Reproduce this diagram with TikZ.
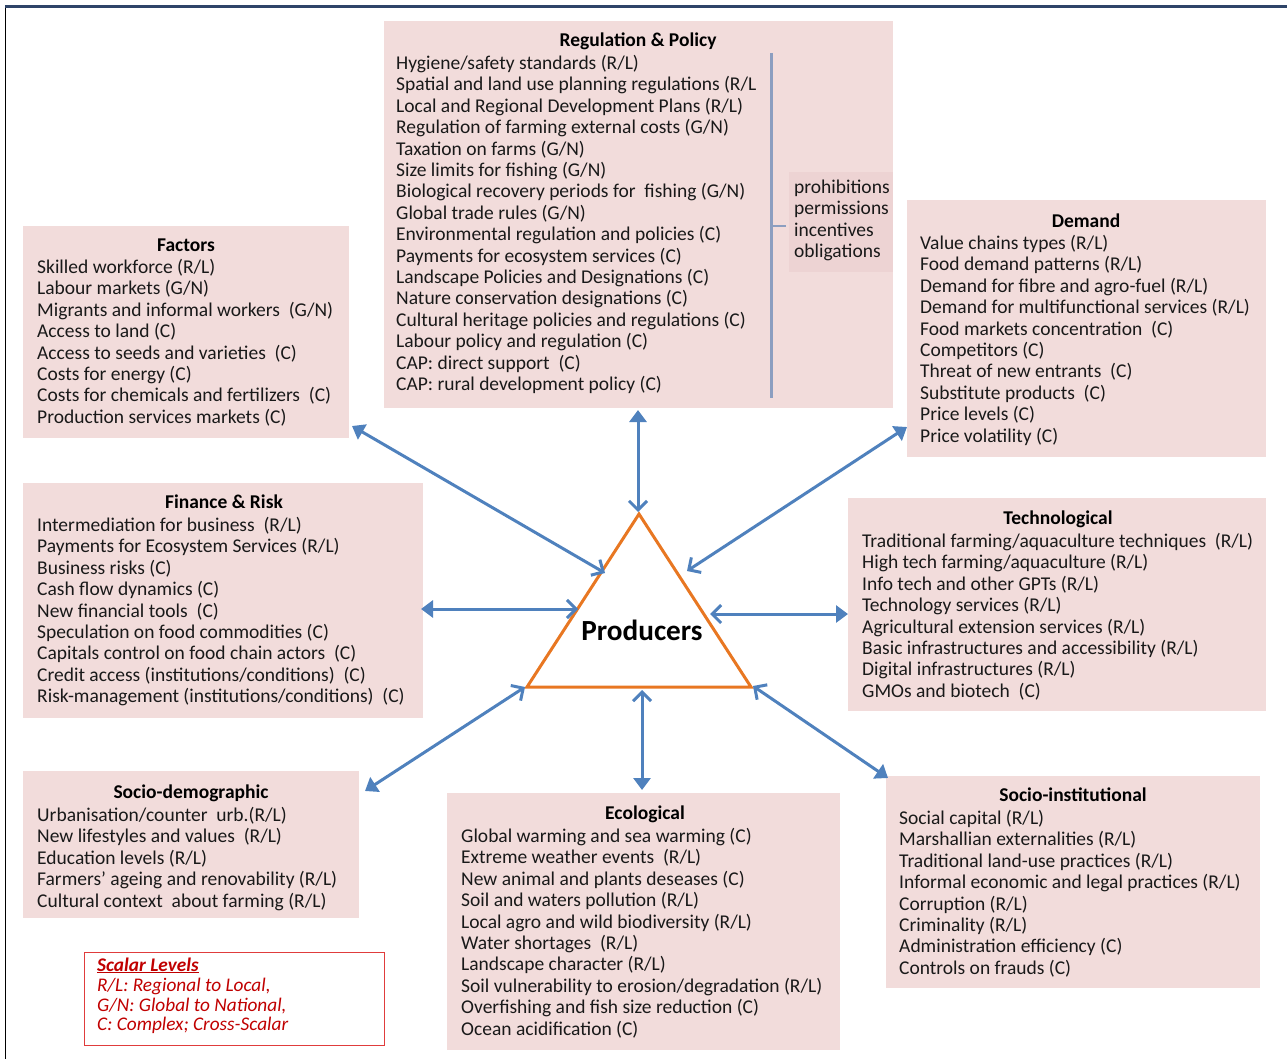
\documentclass[tikz,border=0pt]{standalone}
\usepackage{fontspec}
\setmainfont{Carlito}
\usetikzlibrary{arrows.meta}
\definecolor{boxpink}{HTML}{F2DCDB}
\definecolor{subpink}{HTML}{EDD3D3}
\definecolor{arrowblue}{HTML}{4F81BD}
\definecolor{triorange}{HTML}{E87722}
\definecolor{barcol}{HTML}{8C9EC0}
\definecolor{legred}{HTML}{C00000}
\definecolor{legborder}{HTML}{E03C3C}
\definecolor{framecol}{HTML}{2E4468}
\tikzset{
  panel/.style={fill=boxpink, draw=none, inner sep=0pt, outer sep=0pt, anchor=north west},
  txt/.style={anchor=base west, inner sep=0pt, font=\fontsize{19.5}{21.4}\selectfont, text=black!90},
  ttl/.style={anchor=base, inner sep=0pt, font=\fontsize{19.5}{21.4}\selectfont\bfseries},
  legtxt/.style={anchor=base west, inner sep=0pt, font=\fontsize{19.3}{19.5}\selectfont\itshape, text=legred},
  conn/.style={draw=arrowblue, line width=3pt,
    {Triangle[length=12pt,width=17pt]}-{Straight Barb[length=9pt,width=18pt,line width=3pt]}}
}
\newcommand\boxlines[3]{%
  \foreach \t [count=\i from 0] in {#3}{\node[txt] at (#1,{#2+\i*21.4}) {\t};}}
\begin{document}
\begin{tikzpicture}[x=1pt,y=-1pt]
\useasboundingbox (0,0) rectangle (1287,1059);
% frame
\draw[black, line width=1.5pt] (5.5,1059) -- (5.5,7);
\draw[framecol, line width=3pt] (4.8,7) -- (1287,7);

% ---------- Regulation & Policy ----------
\node[panel, minimum width=509pt, minimum height=387pt] (reg) at (384,21) {};
\node[fill=subpink, inner sep=0pt, anchor=north west, minimum width=104pt, minimum height=100pt] (regsub) at (789,172) {};
\node[ttl] (regt) at (638,47) {Regulation \& Policy};
\boxlines{396}{69.5}{Hygiene/safety standards (R/L),Spatial and land use planning regulations (R/L,Local and Regional Development Plans (R/L),Regulation of farming external costs (G/N),Taxation on farms (G/N),Size limits for fishing (G/N),Biological recovery periods for \ fishing (G/N),Global trade rules (G/N),Environmental regulation and policies (C),Payments for ecosystem services (C),Landscape Policies and Designations (C),Nature conservation designations (C),Cultural heritage policies and regulations (C),Labour policy and regulation (C),CAP: direct support \ (C),CAP: rural development policy (C)}
\draw[barcol, line width=3pt] (771,53) -- (771,398);
\draw[barcol, line width=2.5pt] (771,226) -- (786,226);
\boxlines{794}{193.5}{prohibitions,permissions,incentives,obligations}

% ---------- Factors ----------
\node[panel, minimum width=326pt, minimum height=212pt] (fac) at (23,226) {};
\node[ttl] (fact) at (186,251.5) {Factors};
\boxlines{37}{273.5}{Skilled workforce (R/L),Labour markets (G/N),Migrants and informal workers \ (G/N),Access to land (C),Access to seeds and varieties \ (C),Costs for energy (C),Costs for chemicals and fertilizers \ (C),Production services markets (C)}

% ---------- Demand ----------
\node[panel, minimum width=359pt, minimum height=257pt] (dem) at (907,200) {};
\node[ttl] (demt) at (1086,227.5) {Demand};
\boxlines{920}{249.5}{Value chains types (R/L),Food demand patterns (R/L),Demand for fibre and agro-fuel (R/L),Demand for multifunctional services (R/L),Food markets concentration \ (C),Competitors (C),Threat of new entrants \ (C),Substitute products \ (C),Price levels (C),Price volatility (C)}

% ---------- Finance & Risk ----------
\node[panel, minimum width=400pt, minimum height=235pt] (fin) at (23,483) {};
\node[ttl] (fint) at (224,508.5) {Finance \& Risk};
\boxlines{37}{531.5}{Intermediation for business \ (R/L),Payments for Ecosystem Services (R/L),Business risks (C),Cash flow dynamics (C),New financial tools \ (C),Speculation on food commodities (C),Capitals control on food chain actors \ (C),Credit access (institutions/conditions) \ (C),Risk-management (institutions/conditions) \ (C)}

% ---------- Technological ----------
\node[panel, minimum width=418pt, minimum height=213pt] (tec) at (848,498) {};
\node[ttl] (tect) at (1058,524.5) {Technological};
\boxlines{862}{547.5}{Traditional farming/aquaculture techniques \ (R/L),High tech farming/aquaculture (R/L),Info tech and other GPTs (R/L),Technology services (R/L),Agricultural extension services (R/L),Basic infrastructures and accessibility (R/L),Digital infrastructures (R/L),GMOs and biotech \ (C)}

% ---------- Socio-demographic ----------
\node[panel, minimum width=336pt, minimum height=147pt] (soc) at (23,771) {};
\node[ttl] (soct) at (191,798.5) {Socio-demographic};
\boxlines{37}{821.5}{Urbanisation/counter \ urb.(R/L),New lifestyles and values \ (R/L),Education levels (R/L),Farmers’ ageing and renovability (R/L),Cultural context \ about farming (R/L)}

% ---------- Ecological ----------
\node[panel, minimum width=393pt, minimum height=257pt] (eco) at (447,793) {};
\node[ttl] (ecot) at (645,819.5) {Ecological};
\boxlines{461}{842.5}{Global warming and sea warming (C),Extreme weather events \ (R/L),New animal and plants deseases (C),Soil and waters pollution (R/L),Local agro and wild biodiversity (R/L),Water shortages \ (R/L),Landscape character (R/L),Soil vulnerability to erosion/degradation (R/L),Overfishing and fish size reduction (C),Ocean acidification (C)}

% ---------- Socio-institutional ----------
\node[panel, minimum width=374pt, minimum height=212pt] (ins) at (886,776) {};
\node[ttl] (inst) at (1073,801.5) {Socio-institutional};
\boxlines{899}{824.5}{Social capital (R/L),Marshallian externalities (R/L),Traditional land-use practices (R/L),Informal economic and legal practices (R/L),Corruption (R/L),Criminality (R/L),Administration efficiency (C),Controls on frauds (C)}

% ---------- Legend ----------
\node[draw=legborder, line width=1.3pt, inner sep=0pt, anchor=north west, minimum width=300pt, minimum height=93pt] (leg) at (84,952) {};
\node[legtxt, font=\fontsize{19.3}{19.5}\selectfont\bfseries\itshape] (legt) at (97,971) {\underline{Scalar Levels}};
\node[legtxt] (leg1) at (97,991) {R/L: Regional to Local,};
\node[legtxt] (leg2) at (97,1011) {G/N: Global to National,};
\node[legtxt] (leg3) at (97,1030) {C: Complex; Cross-Scalar};

% ---------- Producers triangle ----------
\coordinate (apex) at (639,514);
\coordinate (bl) at (527,687);
\coordinate (br) at (751,687);
\draw[triorange, line width=3pt, line join=miter] (apex) -- (bl) -- (br) -- cycle;
\node[anchor=base, inner sep=0pt, font=\fontsize{29.2}{31}\selectfont\bfseries] (prod) at (642,640) {Producers};

% ---------- connectors ----------
\coordinate (facE) at (352,426);  \coordinate (facT) at (605,573);
\coordinate (regE) at (638,410);  \coordinate (regT) at (638,512);
\coordinate (demE) at (907,427);  \coordinate (demT) at (687,571);
\coordinate (finE) at (421,609);  \coordinate (finT) at (578,609);
\coordinate (tecE) at (848,614);  \coordinate (tecT) at (710,614);
\coordinate (socE) at (365,791);  \coordinate (socT) at (525,687);
\coordinate (ecoE) at (642,790);  \coordinate (ecoT) at (642,690);
\coordinate (insE) at (888,778);  \coordinate (insT) at (753,686);
\foreach \a in {fac,reg,dem,fin,tec,soc,eco,ins}{\draw[conn] (\a E) -- (\a T);}
\end{tikzpicture}
\end{document}
